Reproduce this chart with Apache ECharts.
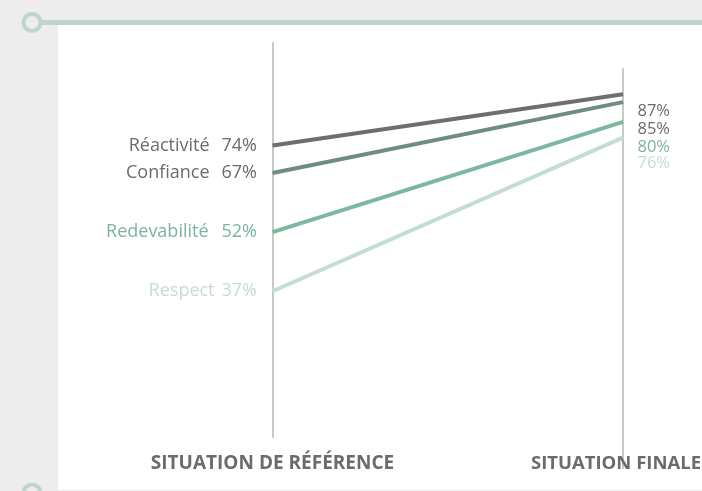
<!DOCTYPE html>
<html><head><meta charset="utf-8">
<script src="https://cdn.jsdelivr.net/npm/echarts@6/dist/echarts.min.js"></script>
<style>html,body{margin:0;padding:0;background:#ededed}#c{width:702px;height:491px}</style>
</head><body><div id="c"></div>
<script>
const categories = ['SITUATION DE RÉFÉRENCE', 'SITUATION FINALE'];
const seriesNames = ['Réactivité', 'Confiance', 'Redevabilité', 'Respect'];
const startValues = [74, 67, 52, 37];
const endValues = [87, 85, 80, 76];

const lineColors = ['#6e6e6e', '#6f8c82', '#7bb89e', '#c3dcd8'];
const textColors = ['#6b6b6b', '#6b6b6b', '#7bb49b', '#c3dcd8'];
const nameGaps = [12, 12, 13, 7];
const endOffsets = [17, 27, 25, 26];
const labelFont = 'Open Sans';

const chart = echarts.init(document.getElementById('c'));
const series = seriesNames.map((name, i) => ({
  name, type: 'line', xAxisIndex: 0, yAxisIndex: 0,
  symbol: 'circle', symbolSize: 1, showSymbol: true, silent: true,
  itemStyle: { color: 'rgba(0,0,0,0)' },
  lineStyle: { color: lineColors[i], width: 4 },
  labelLayout: (p) => p.dataIndex === 1 ? { dy: endOffsets[i], hideOverlap: false } : { hideOverlap: false },
  data: [
    { value: startValues[i], label: {
        show: true, position: 'left', distance: 15,
        formatter: () => `{n|${name}}{v|${startValues[i]}%}`,
        rich: {
          n: { fontFamily: labelFont, fontSize: 18, color: textColors[i] },
          v: { fontFamily: labelFont, fontSize: 18, color: textColors[i], padding: [0, 0, 0, nameGaps[i]] }
        }
    } },
    { value: endValues[i], label: {
        show: true, position: 'right', distance: 14,
        formatter: endValues[i] + '%',
        fontFamily: labelFont, fontSize: 16.5, color: textColors[i]
    } }
  ]
}));

chart.setOption({
  backgroundColor: '#ededed',
  animation: false,
  graphic: [
    { type: 'rect', z: -10, shape: { x: 58, y: 25, width: 644, height: 465 }, style: { fill: '#ffffff' } },
    { type: 'line', z: 1, shape: { x1: 40, y1: 22.5, x2: 702, y2: 22.5 }, style: { stroke: '#bfd4cc', lineWidth: 5 } },
    { type: 'circle', z: 2, shape: { cx: 32, cy: 22.5, r: 8.5 }, style: { fill: '#ededed', stroke: '#bfd4cc', lineWidth: 4 } },
    { type: 'circle', z: 2, shape: { cx: 32, cy: 493, r: 8.5 }, style: { fill: '#ededed', stroke: '#bfd4cc', lineWidth: 4 } }
  ],
  grid: [
    { left: 272.5, right: 79, top: 43, bottom: 54, outerBoundsMode: 'none', containLabel: false },
    { left: 623, width: 1, top: 69, bottom: 23, outerBoundsMode: 'none', containLabel: false }
  ],
  xAxis: [
    { type: 'category', gridIndex: 0, data: categories, boundaryGap: false,
      axisLine: { show: false }, axisTick: { show: false },
      axisLabel: { margin: 17, fontFamily: 'Open Sans', fontWeight: 'bold', fontSize: 19, color: '#6b6b6b',
        formatter: (v, idx) => idx === categories.length - 1 ? `{last|${v}}` : v,
        rich: { last: { fontFamily: 'Open Sans', fontWeight: 'bold', fontSize: 18.5, color: '#6b6b6b', padding: [0, 14, 0, 0] } } } },
    { type: 'category', gridIndex: 1, data: [''], show: false }
  ],
  yAxis: [
    { type: 'value', gridIndex: 0, min: 0, max: 100, splitLine: { show: false },
      axisLabel: { show: false }, axisTick: { show: false },
      axisLine: { show: true, lineStyle: { color: '#c8c9c0', width: 2 } } },
    { type: 'value', gridIndex: 1, min: 0, max: 1, splitLine: { show: false },
      axisLabel: { show: false }, axisTick: { show: false },
      axisLine: { show: true, lineStyle: { color: '#c8c9c0', width: 2 } } }
  ],
  series
});
</script></body></html>
